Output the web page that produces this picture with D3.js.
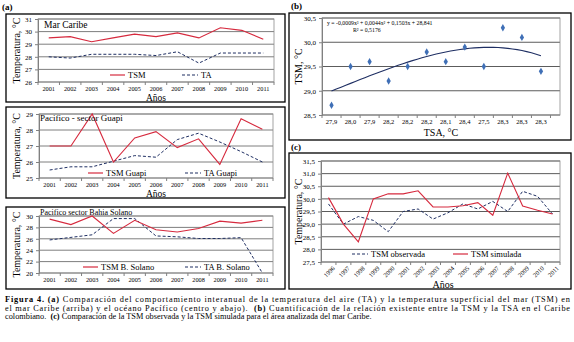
<!DOCTYPE html>
<html>
<head>
<meta charset="utf-8">
<script src="https://cdn.jsdelivr.net/npm/d3@7"></script>
<style>
body { margin: 0; background: #fff; }
svg { display: block; font-family: "Liberation Serif", "Times New Roman", serif; }
</style>
</head>
<body>
<svg id="fig" width="574" height="342"></svg>
<script>
// ---- data ----
const years = ["2001","2002","2003","2004","2005","2006","2007","2008","2009","2010","2011"];
const caribeTSM = [29.5, 29.6, 29.2, 29.5, 29.8, 29.6, 29.9, 29.5, 30.3, 30.1, 29.4];
const caribeTA  = [28.0, 27.9, 28.2, 28.2, 28.2, 28.1, 28.4, 27.5, 28.3, 28.3, 28.3];
const guapiTSM  = [27.0, 27.0, 29.0, 26.0, 27.5, 27.9, 26.9, 27.45, 25.85, 28.7, 28.05];
const guapiTA   = [25.5, 25.7, 25.7, 26.05, 26.4, 26.3, 27.4, 27.8, 27.25, 26.65, 26.0];
const solanoTSM = [29.45, 28.5, 30.0, 26.95, 29.25, 27.6, 27.2, 27.8, 29.1, 28.75, 29.25];
const solanoTA  = [25.8, 26.25, 26.7, 29.55, 29.55, 26.5, 26.35, 26.05, 26.05, 26.2, 20.0];

const tsaLabels = ["27,9","28,0","27,9","28,2","28,2","28,2","28,1","28,4","27,5","28,3","28,3","28,3"];
const tsmPoints = [28.7, 29.5, 29.6, 29.2, 29.5, 29.8, 29.6, 29.9, 29.5, 30.3, 30.1, 29.4];
const trendCoef = [-0.0009, 0.0044, 0.1503, 28.841]; // x^3, x^2, x, 1 (as printed)

const cYears = ["1996","1997","1998","1999","2000","2001","2002","2003","2004","2005","2006","2007","2008","2009","2010","2011"];
const tsmObservada = [29.8, 29.0, 29.3, 29.15, 28.7, 29.5, 29.6, 29.2, 29.45, 29.8, 29.6, 29.9, 29.5, 30.3, 30.1, 29.4];
const tsmSimulada  = [30.05, 29.0, 28.3, 30.0, 30.2, 30.2, 30.32, 29.68, 29.68, 29.73, 29.85, 29.35, 31.02, 29.72, 29.55, 29.4];

const RED = "#d62a3e";
const NAVY = "#1f2f63";
const BLUE = "#3f6fb6";

const svg = d3.select("#fig");
const comma = d => d3.format(".1f")(d).replace(".", ",");

function frame(b) {
    svg.append("rect")
        .attr("x", b[0]).attr("y", b[1])
        .attr("width", b[2] - b[0]).attr("height", b[3] - b[1])
        .attr("fill", "none").attr("stroke", "#000").attr("stroke-width", 1.3);
}

function yAxisLeft(g, y, x0, ticks, fmt) {
    g.append("g")
        .attr("transform", `translate(${x0},0)`)
        .call(d3.axisLeft(y).tickValues(ticks).tickSize(3).tickPadding(3).tickFormat(fmt))
        .call(a => a.select(".domain").attr("stroke", "#808080"))
        .call(a => a.selectAll(".tick line").attr("stroke", "#808080"))
        .call(a => a.selectAll("text").attr("font-size", 7).attr("fill", "#000")
            .attr("font-family", "Liberation Serif"));
}

function gridAndBorder(g, y, p, ticks, col) {
    g.append("g").selectAll("line").data(ticks).join("line")
        .attr("x1", p[0]).attr("x2", p[2])
        .attr("y1", d => y(d)).attr("y2", d => y(d))
        .attr("stroke", col).attr("stroke-width", 0.9);
    g.append("rect").attr("x", p[0]).attr("y", p[1])
        .attr("width", p[2] - p[0]).attr("height", p[3] - p[1])
        .attr("fill", "none").attr("stroke", "#8c8c8c").attr("stroke-width", 0.8);
}

// ---- panel (a): three line charts ----
function drawLinePanel(c) {
    frame(c.box);
    const p = c.plot;
    const g = svg.append("g");
    const x = d3.scaleBand().domain(years).range([p[0], p[2]]);
    const y = d3.scaleLinear().domain(c.yDomain).range([p[3], p[1]]);
    gridAndBorder(g, y, p, c.yTicks, "#6f6f6f");
    yAxisLeft(g, y, p[0], c.yTicks, d3.format("d"));

    // category ticks between years
    g.append("g").selectAll("line").data(years.concat(["end"])).join("line")
        .attr("x1", d => d === "end" ? p[2] : x(d))
        .attr("x2", d => d === "end" ? p[2] : x(d))
        .attr("y1", p[3]).attr("y2", p[3] + 3)
        .attr("stroke", "#808080");
    g.append("g").selectAll("text").data(years).join("text")
        .attr("x", d => x(d) + x.bandwidth() / 2)
        .attr("y", p[3] + 9)
        .attr("text-anchor", "middle").attr("font-size", 6.3)
        .text(d => d);

    const line = d3.line()
        .x((d, i) => x(years[i]) + x.bandwidth() / 2)
        .y(d => y(d));
    g.append("path").attr("d", line(c.ta)).attr("fill", "none")
        .attr("stroke", NAVY).attr("stroke-width", 1).attr("stroke-dasharray", "3,2");
    g.append("path").attr("d", line(c.tsm)).attr("fill", "none")
        .attr("stroke", RED).attr("stroke-width", 1.1);

    g.append("text").attr("x", c.title[0]).attr("y", c.title[1])
        .attr("font-size", c.title[2]).text(c.title[3]);

    // legend
    g.append("line").attr("x1", c.leg[0]).attr("x2", c.leg[0] + 15)
        .attr("y1", c.leg[2]).attr("y2", c.leg[2]).attr("stroke", RED).attr("stroke-width", 1.2);
    g.append("text").attr("x", c.leg[0] + 18).attr("y", c.leg[2] + 3)
        .attr("font-size", c.legSize).text(c.legNames[0]);
    g.append("line").attr("x1", c.leg[1]).attr("x2", c.leg[1] + 16)
        .attr("y1", c.leg[2]).attr("y2", c.leg[2]).attr("stroke", NAVY)
        .attr("stroke-width", 1.1).attr("stroke-dasharray", "3,2");
    g.append("text").attr("x", c.leg[1] + 19).attr("y", c.leg[2] + 3)
        .attr("font-size", c.legSize).text(c.legNames[1]);

    g.append("text")
        .attr("transform", `translate(${c.box[0] + 10},${(p[1] + p[3]) / 2}) rotate(-90)`)
        .attr("text-anchor", "middle").attr("dominant-baseline", "central")
        .attr("font-size", 10).text("Temperatura, °C");
    if (c.anos) {
        g.append("text").attr("x", (p[0] + p[2]) / 2).attr("y", c.anos)
            .attr("text-anchor", "middle").attr("font-size", 9.5).text("Años");
    }
}

svg.append("text").attr("x", 2).attr("y", 10).attr("font-size", 9)
    .attr("font-weight", "bold").text("(a)");

drawLinePanel({
    box: [6, 14, 285, 102], plot: [38, 19, 274, 82],
    yDomain: [26, 31], yTicks: [26, 27, 28, 29, 30, 31],
    tsm: caribeTSM, ta: caribeTA,
    title: [44, 28, 9.5, "Mar Caribe"],
    leg: [110, 182, 75], legSize: 8.5, legNames: ["TSM", "TA"],
    anos: 100.5
});
drawLinePanel({
    box: [6, 107, 285, 198], plot: [39, 114, 273, 178],
    yDomain: [25, 29], yTicks: [25, 26, 27, 28, 29],
    tsm: guapiTSM, ta: guapiTA,
    title: [40, 121, 9, "Pacifico - sector Guapi"],
    leg: [88, 185, 173], legSize: 8.5, legNames: ["TSM Guapi", "TA Guapi"],
    anos: 197
});
drawLinePanel({
    box: [6, 207, 285, 289], plot: [39, 216, 273, 273],
    yDomain: [20, 30], yTicks: [20, 22, 24, 26, 28, 30],
    tsm: solanoTSM, ta: solanoTA,
    title: [40, 215, 8, "Pacifico sector Bahia Solano"],
    leg: [83, 185, 267], legSize: 8.5, legNames: ["TSM B. Solano", "TA B. Solano"],
    anos: null
});

// ---- panel (b): scatter + polynomial trend ----
(function () {
    svg.append("text").attr("x", 291).attr("y", 9).attr("font-size", 9)
        .attr("font-weight", "bold").text("(b)");
    const box = [289, 13, 571, 140];
    const p = [322, 18, 560, 115];
    frame(box);
    const g = svg.append("g");
    const x = d3.scaleLinear().domain([0.5, tsaLabels.length + 1]).range([p[0], p[2]]);
    const y = d3.scaleLinear().domain([28.5, 30.5]).range([p[3], p[1]]);
    gridAndBorder(g, y, p, [28.5, 29.0, 29.5, 30.0, 30.5], "#4a4a4a");
    yAxisLeft(g, y, p[0], [28.5, 29.0, 29.5, 30.0, 30.5], comma);

    const idx = d3.range(1, tsaLabels.length + 1);
    g.append("g").selectAll("line").data(idx.map(i => i - 0.5).concat([tsaLabels.length + 0.5])).join("line")
        .attr("x1", d => x(d)).attr("x2", d => x(d))
        .attr("y1", p[3]).attr("y2", p[3] + 3).attr("stroke", "#808080");
    g.append("g").selectAll("text").data(tsaLabels).join("text")
        .attr("x", (d, i) => x(i + 1)).attr("y", p[3] + 9)
        .attr("text-anchor", "middle").attr("font-size", 6.5).text(d => d);

    const trend = xv => trendCoef[0] * xv ** 3 + trendCoef[1] * xv ** 2 + trendCoef[2] * xv + trendCoef[3];
    const tx = d3.range(1, tsaLabels.length + 0.001, 0.25);
    g.append("path")
        .attr("d", d3.line().x(d => x(d)).y(d => y(trend(d)))(tx))
        .attr("fill", "none").attr("stroke", "#1f2f63").attr("stroke-width", 1.1);

    g.append("g").selectAll("path").data(tsmPoints).join("path")
        .attr("transform", (d, i) => `translate(${x(i + 1)},${y(d)})`)
        .attr("d", d3.symbol(d3.symbolDiamond, 16))
        .attr("fill", BLUE);

    g.append("text").attr("x", 327).attr("y", 25).attr("font-size", 5.8)
        .text("y = -0,0009x³ + 0,0044x² + 0,1503x + 28,841");
    g.append("text").attr("x", 353).attr("y", 32).attr("font-size", 5.8)
        .text("R² = 0,5176");

    g.append("text")
        .attr("transform", `translate(298,${(p[1] + p[3]) / 2}) rotate(-90)`)
        .attr("text-anchor", "middle").attr("dominant-baseline", "central")
        .attr("font-size", 10).text("TSM, °C");
    g.append("text").attr("x", (p[0] + p[2]) / 2).attr("y", 136)
        .attr("text-anchor", "middle").attr("font-size", 10).text("TSA, °C");
})();

// ---- panel (c): observed vs simulated ----
(function () {
    svg.append("text").attr("x", 291).attr("y", 150).attr("font-size", 9)
        .attr("font-weight", "bold").text("(c)");
    const box = [289, 153, 571, 289];
    const p = [321, 161, 560, 262];
    frame(box);
    const g = svg.append("g");
    const x = d3.scaleBand().domain(cYears).range([p[0], p[2]]);
    const y = d3.scaleLinear().domain([27.5, 31.5]).range([p[3], p[1]]);
    const yt = d3.range(27.5, 31.51, 0.5);
    gridAndBorder(g, y, p, yt, "#4a4a4a");
    yAxisLeft(g, y, p[0], yt, comma);

    g.append("g").selectAll("line").data(cYears.concat(["end"])).join("line")
        .attr("x1", d => d === "end" ? p[2] : x(d))
        .attr("x2", d => d === "end" ? p[2] : x(d))
        .attr("y1", p[3]).attr("y2", p[3] + 3).attr("stroke", "#808080");
    g.append("g").selectAll("text").data(cYears).join("text")
        .attr("transform", d => `translate(${x(d) + x.bandwidth() / 2 + 5},${p[3] + 5}) rotate(-45)`)
        .attr("text-anchor", "end").attr("dominant-baseline", "central")
        .attr("font-size", 6.3).text(d => d);

    const line = d3.line()
        .x((d, i) => x(cYears[i]) + x.bandwidth() / 2)
        .y(d => y(d));
    g.append("path").attr("d", line(tsmObservada)).attr("fill", "none")
        .attr("stroke", NAVY).attr("stroke-width", 1).attr("stroke-dasharray", "3,2");
    g.append("path").attr("d", line(tsmSimulada)).attr("fill", "none")
        .attr("stroke", RED).attr("stroke-width", 1.1);

    g.append("line").attr("x1", 352).attr("x2", 368).attr("y1", 254).attr("y2", 254)
        .attr("stroke", NAVY).attr("stroke-dasharray", "3,2");
    g.append("text").attr("x", 371).attr("y", 257).attr("font-size", 8.5).text("TSM observada");
    g.append("line").attr("x1", 453).attr("x2", 468).attr("y1", 254).attr("y2", 254)
        .attr("stroke", RED).attr("stroke-width", 1.2);
    g.append("text").attr("x", 471).attr("y", 257).attr("font-size", 8.5).text("TSM simulada");

    g.append("text")
        .attr("transform", `translate(298,${(p[1] + p[3]) / 2}) rotate(-90)`)
        .attr("text-anchor", "middle").attr("dominant-baseline", "central")
        .attr("font-size", 10).text("Temperatura, °C");
    g.append("text").attr("x", 443).attr("y", 288)
        .attr("text-anchor", "middle").attr("font-size", 10).text("Años");
})();

// ---- caption ----
const captionLines = [
    [["Figura 4.", true], [" ", false], ["(a)", true], [" Comparación del comportamiento interanual de la temperatura del aire (TA) y la temperatura superficial del mar (TSM) en", false]],
    [["el mar Caribe (arriba) y el océano Pacífico (centro y abajo).  ", false], ["(b)", true], [" Cuantificación de la relación existente entre la TSM y la TSA en el Caribe", false]],
    [["colombiano.  ", false], ["(c)", true], [" Comparación de la TSM observada y la TSM simulada para el área analizada del mar Caribe.", false]]
];
const capY = [302, 310.5, 319];
captionLines.forEach((ln, i) => {
    const t = svg.append("text").attr("x", 5).attr("y", capY[i])
        .attr("font-size", 8.3).attr("xml:space", "preserve");
    if (i < 2) t.attr("textLength", 565).attr("lengthAdjust", "spacing");
    ln.forEach(s => t.append("tspan").attr("font-weight", s[1] ? "bold" : null).text(s[0]));
});
</script>
</body>
</html>
